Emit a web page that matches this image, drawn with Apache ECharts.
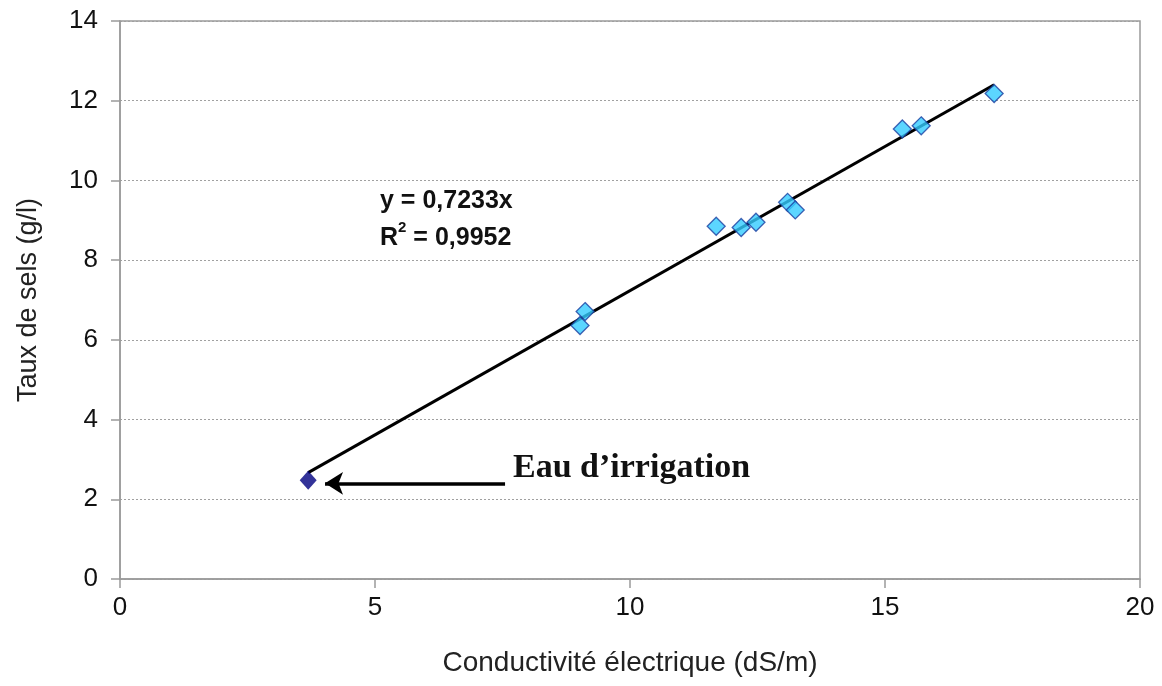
<!DOCTYPE html>
<html>
<head>
<meta charset="utf-8">
<script src="https://cdn.jsdelivr.net/npm/echarts@6/dist/echarts.min.js"></script>
<style>html,body{margin:0;padding:0;background:#fff;}#c{width:1162px;height:686px;}</style>
</head>
<body>
<div id="c"></div>
<script>
// Data
const samplesX = [9.02, 9.12, 11.69, 12.18, 12.47, 13.09, 13.24, 15.34, 15.71, 17.14];
const samplesY = [6.36, 6.71, 8.85, 8.82, 8.95, 9.45, 9.26, 11.29, 11.37, 12.18];
const irrigationX = [3.69];
const irrigationY = [2.48];
const trendX = [3.69, 17.14];
const trendY = [2.67, 12.40];
const arrowFrom = [7.55, 2.40];
const arrowTo = [4.02, 2.40];
const xTicks = [0, 5, 10, 15, 20];
const yTicks = [0, 2, 4, 6, 8, 10, 12, 14];

const zip = (a, b) => a.map((v, i) => [v, b[i]]);

const chart = echarts.init(document.getElementById('c'));
chart.setOption({
  animation: false,
  grid: { left: 120, right: 22, top: 21, bottom: 107, show: true, borderColor: '#9a9a9a', borderWidth: 1.5, backgroundColor: 'transparent' },
  xAxis: {
    type: 'value', min: xTicks[0], max: xTicks[xTicks.length - 1], interval: 5,
    name: 'Conductivité électrique (dS/m)', nameLocation: 'middle', nameGap: 70,
    nameTextStyle: { fontFamily: 'Liberation Sans, Arial', fontSize: 28, color: '#222' },
    axisLine: { lineStyle: { color: '#9a9a9a', width: 1.5 } },
    axisTick: { show: true, length: 9, inside: false, lineStyle: { color: '#9a9a9a', width: 1.5 } },
    axisLabel: { fontFamily: 'Liberation Sans, Arial', fontSize: 26, color: '#111', margin: 16 },
    splitLine: { show: false }
  },
  yAxis: {
    type: 'value', min: yTicks[0], max: yTicks[yTicks.length - 1], interval: 2,
    name: 'Taux de sels (g/l)', nameLocation: 'middle', nameGap: 78,
    nameTextStyle: { fontFamily: 'Liberation Sans, Arial', fontSize: 27, color: '#222' },
    axisLine: { lineStyle: { color: '#9a9a9a', width: 1.5 } },
    axisTick: { show: true, length: 9, lineStyle: { color: '#9a9a9a', width: 1.5 } },
    axisLabel: { fontFamily: 'Liberation Sans, Arial', fontSize: 26, color: '#111', margin: 22 },
    splitLine: { show: true, lineStyle: { color: '#a0a0a0', type: [2, 2], width: 1 } }
  },
  series: [
    {
      type: 'line', data: zip(trendX, trendY), symbol: 'none',
      lineStyle: { color: '#000', width: 3 }, z: 3,
      markLine: {
        silent: true, symbol: ['none', 'arrow'], symbolSize: [17, 18],
        lineStyle: { color: '#000', width: 3.5, type: 'solid' },
        label: { show: false },
        data: [[{ coord: arrowFrom }, { coord: arrowTo }]]
      }
    },
    {
      type: 'scatter', data: zip(samplesX, samplesY), symbol: 'diamond', symbolSize: 18,
      itemStyle: { color: '#33ccff', borderColor: '#1a3fa0', borderWidth: 1.3 }, z: 4
    },
    {
      type: 'scatter', data: zip(irrigationX, irrigationY), symbol: 'diamond', symbolSize: [17, 19],
      itemStyle: { color: '#000080' }, z: 4
    }
  ],
  graphic: [
    {
      type: 'text', left: 380, top: 189,
      style: {
        text: '{a|y = 0,7233x}\n{a|R}{s|2}{a| = 0,9952}',
        rich: {
          a: { fontFamily: 'Liberation Sans, Arial', fontSize: 25, fontWeight: 'bold', fill: '#111', lineHeight: 37 },
          s: { fontFamily: 'Liberation Sans, Arial', fontSize: 15, fontWeight: 'bold', fill: '#111', verticalAlign: 'top', lineHeight: 37, padding: [0, 0, 12, 0] }
        }
      }
    },
    {
      type: 'text', left: 513, top: 451,
      style: { text: 'Eau d\u2019irrigation', font: 'bold 34px "Liberation Serif", "Times New Roman", serif', fill: '#111' }
    }
  ]
});
</script>
</body>
</html>
